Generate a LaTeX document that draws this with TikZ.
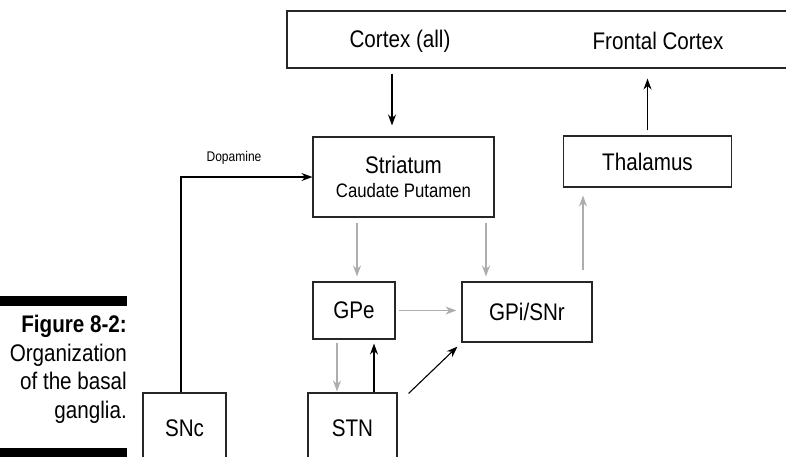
\documentclass[tikz,border=0pt]{standalone}
\usepackage{fontspec}
\setsansfont{Liberation Sans}[FakeStretch=0.86]
\usetikzlibrary{arrows.meta}
\definecolor{linkgrey}{gray}{0.68}
\newcommand*{\boxlw }{1.1pt}
\newcommand*{\arrlw }{1.1pt}
\newcommand*{\mainfs}{\fontsize{24}{27}\selectfont}
\newcommand*{\subfs }{\fontsize{19.5}{22}\selectfont}
\newcommand*{\tagfs }{\fontsize{14}{16}\selectfont}
\newcommand*{\capfs }{\fontsize{24}{28.5}\selectfont}

\begin{document}
\begin{tikzpicture}[x=1pt, y=-1pt, font=\sffamily\mainfs,
    box/.style={draw=black!85, line width=\boxlw, inner sep=0pt, align=center},
    blk/.style={draw=black, line width=\arrlw, -{Stealth[length=11pt,width=8pt]}},
    gry/.style={draw=linkgrey, line width=\arrlw, -{Stealth[length=11pt,width=8pt]}}]
    \clip (0,0) rectangle (786,456);
    % cortex band runs off the right edge
    \node [box, minimum width=530pt, minimum height=57pt] (cortex) at (552,39.5) {};
    \node (ctxall)   at (400,41) {Cortex (all)};
    \node (ctxfront) at (658,41) {Frontal Cortex};
    \node [box, minimum width=181pt, minimum height=80pt] (striatum) at (403.5,177) {Striatum\\[-3pt]{\subfs Caudate Putamen}};
    \node [box, minimum width=168pt, minimum height=51pt] (thalamus) at (647.5,161.5) {Thalamus};
    \node [box, minimum width=82pt,  minimum height=57pt] (gpe)      at (354,310.5)   {GPe};
    \node [box, minimum width=130pt, minimum height=60pt] (gpi)      at (527,312)     {GPi/SNr};
    \node [box, minimum width=89pt,  minimum height=70pt] (stn)      at (352.5,428)   {STN};
    \node [box, minimum width=83pt,  minimum height=70pt] (snc)      at (184.5,428)   {SNc};
    % x positions of the vertical links
    \coordinate (xctx)  at (392,0);
    \coordinate (xgpe)  at (357,0);
    \coordinate (xgpi)  at (486,0);
    \coordinate (xthal) at (583,0);
    \coordinate (xdown) at (337,0);
    \coordinate (xup)   at (374,0);
    % direct pathway in, output up
    \draw [blk, shorten <=5pt, shorten >=11pt] (cortex.south -| xctx) -- (striatum.north -| xctx);
    \draw [blk, shorten <=5pt, shorten >=10pt] (thalamus.north) -- (thalamus.north |- cortex.south);
    \draw [blk] ([xshift=-3.5pt]snc.north) |- (striatum.west);
    \node [font=\sffamily\tagfs] (dopa) at (234,158) {Dopamine};
    % grey links
    \draw [gry, shorten <=5pt, shorten >=5pt]  (striatum.south -| xgpe) -- (gpe.north -| xgpe);
    \draw [gry, shorten <=5pt, shorten >=5pt]  (striatum.south -| xgpi) -- (gpi.north -| xgpi);
    \draw [gry, shorten <=3pt, shorten >=5pt]  (gpe.east) -- (gpi.west |- gpe.east);
    \draw [gry, shorten <=11pt, shorten >=8pt] (gpi.north -| xthal) -- (thalamus.south -| xthal);
    \draw [gry, shorten <=3pt, shorten >=1pt]  (gpe.south -| xdown) -- (stn.north -| xdown);
    % STN outputs
    \draw [blk, shorten >=4pt] (stn.north -| xup) -- (gpe.south -| xup);
    \draw [blk] ([xshift=11pt,yshift=-1pt]stn.north east) -- ([xshift=-4pt,yshift=-4pt]gpi.south west);
    % caption
    \fill (0,296) rectangle (127,305.5);
    \fill (0,448) rectangle (127,460);
    \node [anchor=north east, inner sep=0pt, align=right, font=\sffamily\capfs] (caption) at (127,315)
        {\textbf{Figure 8-2:}\\Organization\\of the basal\\ganglia.};
\end{tikzpicture}
\end{document}
